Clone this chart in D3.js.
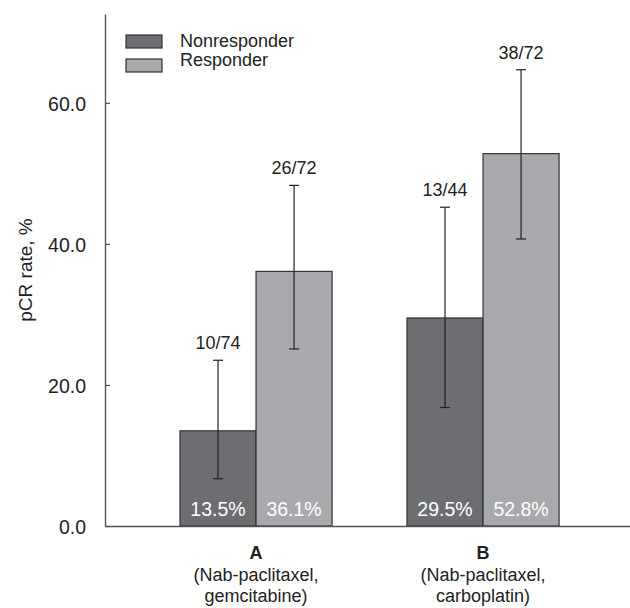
<!DOCTYPE html>
<html>
<head>
<meta charset="utf-8">
<script src="https://d3js.org/d3.v7.min.js"></script>
<style>
  body { margin: 0; background: #fff; }
  svg text { font-family: "Liberation Sans", Arial, Helvetica, sans-serif; }
</style>
</head>
<body>
<div id="chart"></div>
<script>
  // Data
  var groups = ["A", "B"];
  var groupNames = [["(Nab-paclitaxel,", "gemcitabine)"], ["(Nab-paclitaxel,", "carboplatin)"]];
  var series = ["Nonresponder", "Responder"];
  var rates = [[13.5, 36.1], [29.5, 52.8]];
  var ciLow = [[6.7, 25.1], [16.8, 40.7]];
  var ciHigh = [[23.5, 48.3], [45.2, 64.7]];
  var counts = [["10/74", "26/72"], ["13/44", "38/72"]];
  var yTicks = [0, 20, 40, 60];

  var width = 630;
  var height = 608;
  var colors = {"Nonresponder": "#6d6e72", "Responder": "#a8a9ac"};

  var svg = d3.select("#chart")
    .append("svg")
    .attr("width", width)
    .attr("height", height);

  var x0 = d3.scaleBand()
    .domain(groups)
    .range([105, 630])
    .paddingInner(0.33)
    .paddingOuter(0.3214)
    .align(0.514);

  var x1 = d3.scaleBand()
    .domain(series)
    .range([0, x0.bandwidth()]);

  var y = d3.scaleLinear()
    .domain([0, 72.6])
    .range([526, 14]);

  // flatten for binding
  var bars = [];
  groups.forEach(function(g, i){
    series.forEach(function(s, j){
      bars.push({g: g, s: s, v: rates[i][j], lo: ciLow[i][j], hi: ciHigh[i][j], n: counts[i][j]});
    });
  });

  // Bars
  svg.selectAll("rect.bar")
    .data(bars)
    .enter()
    .append("rect")
    .attr("class", "bar")
    .attr("x", function(d){ return x0(d.g) + x1(d.s); })
    .attr("y", function(d){ return y(d.v); })
    .attr("width", x1.bandwidth())
    .attr("height", function(d){ return y(0) - y(d.v); })
    .attr("fill", function(d){ return colors[d.s]; })
    .attr("stroke", "#333")
    .attr("stroke-width", 1.2);

  // Percent labels inside bars
  svg.selectAll("text.pct")
    .data(bars)
    .enter()
    .append("text")
    .attr("class", "pct")
    .attr("x", function(d){ return x0(d.g) + x1(d.s) + x1.bandwidth() / 2; })
    .attr("y", y(0) - 10)
    .attr("text-anchor", "middle")
    .attr("fill", "#fff")
    .style("font-size", "19.5px")
    .text(function(d){ return d.v.toFixed(1) + "%"; });

  // Error bars
  var cx = function(d){ return x0(d.g) + x1(d.s) + x1.bandwidth() / 2; };
  var err = svg.selectAll("g.err")
    .data(bars)
    .enter()
    .append("g")
    .attr("class", "err")
    .attr("stroke", "#222")
    .attr("stroke-width", 1.2);

  err.append("line")
    .attr("x1", cx).attr("x2", cx)
    .attr("y1", function(d){ return y(d.lo); })
    .attr("y2", function(d){ return y(d.hi); });
  err.append("line")
    .attr("x1", function(d){ return cx(d) - 5; })
    .attr("x2", function(d){ return cx(d) + 5; })
    .attr("y1", function(d){ return y(d.hi); })
    .attr("y2", function(d){ return y(d.hi); });
  err.append("line")
    .attr("x1", function(d){ return cx(d) - 5; })
    .attr("x2", function(d){ return cx(d) + 5; })
    .attr("y1", function(d){ return y(d.lo); })
    .attr("y2", function(d){ return y(d.lo); });

  // Count labels
  svg.selectAll("text.count")
    .data(bars)
    .enter()
    .append("text")
    .attr("class", "count")
    .attr("x", cx)
    .attr("y", function(d){ return y(d.hi) - 11; })
    .attr("text-anchor", "middle")
    .attr("fill", "#222")
    .style("font-size", "18px")
    .text(function(d){ return d.n; });

  // Y axis
  var yAxis = svg.append("g")
    .attr("transform", "translate(105,0)")
    .call(d3.axisLeft(y)
      .tickValues(yTicks)
      .tickFormat(d3.format(".1f"))
      .tickSizeInner(-5)
      .tickSizeOuter(0)
      .tickPadding(19));
  yAxis.select(".domain").attr("stroke", "#555").attr("stroke-width", 1.4);
  yAxis.selectAll(".tick line").attr("stroke", "#555").attr("stroke-width", 1.2);
  yAxis.selectAll(".tick text")
    .attr("fill", "#222")
    .attr("dy", "0.4em")
    .style("font-size", "19.5px")
    .style("font-family", "'Liberation Sans', Arial, sans-serif");

  // X axis
  var xAxis = svg.append("g")
    .attr("transform", "translate(0,526)")
    .call(d3.axisBottom(x0).tickSize(0).tickFormat(""));
  xAxis.select(".domain").attr("stroke", "#555").attr("stroke-width", 1.4);

  var xl = svg.selectAll("g.xlab")
    .data(groups)
    .enter()
    .append("g")
    .attr("class", "xlab")
    .attr("transform", function(d){ return "translate(" + (x0(d) + x0.bandwidth() / 2) + ",0)"; });
  xl.append("text")
    .attr("y", 559)
    .attr("text-anchor", "middle")
    .attr("font-weight", "bold")
    .attr("fill", "#222")
    .style("font-size", "18px")
    .text(function(d){ return d; });
  xl.each(function(d, i){
    d3.select(this).selectAll("text.sub")
      .data(groupNames[i])
      .enter()
      .append("text")
      .attr("class", "sub")
      .attr("y", function(t, k){ return 581 + k * 21; })
      .attr("text-anchor", "middle")
      .attr("fill", "#222")
      .style("font-size", "18px")
      .text(function(t){ return t; });
  });

  // Y axis title
  svg.append("text")
    .attr("transform", "translate(32," + ((y.range()[0] + y.range()[1]) / 2) + ") rotate(-90)")
    .attr("text-anchor", "middle")
    .attr("fill", "#222")
    .style("font-size", "19px")
    .text("pCR rate, %");

  // Legend
  var legend = svg.selectAll("g.legend")
    .data(series)
    .enter()
    .append("g")
    .attr("class", "legend");
  legend.append("rect")
    .attr("x", 126)
    .attr("y", function(d, i){ return 35 + i * 24; })
    .attr("width", 36)
    .attr("height", 13)
    .attr("fill", function(d){ return colors[d]; })
    .attr("stroke", "#333")
    .attr("stroke-width", 1.2);
  legend.append("text")
    .attr("x", 180)
    .attr("y", function(d, i){ return 47 + i * 19; })
    .attr("fill", "#222")
    .style("font-size", "18px")
    .text(function(d){ return d; });
</script>
</body>
</html>
